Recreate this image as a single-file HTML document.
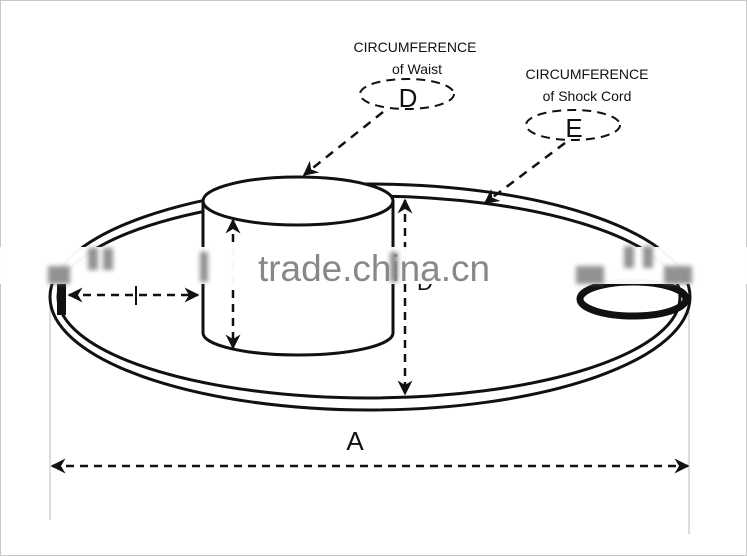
<!DOCTYPE html>
<html><head><meta charset="utf-8"><style>
html,body{margin:0;padding:0;background:#fff;}
svg{display:block;}
text{font-family:"Liberation Sans",sans-serif;}
</style></head><body>
<svg width="747" height="556" viewBox="0 0 747 556" xmlns="http://www.w3.org/2000/svg">
<defs>
<marker id="ar" viewBox="0 0 10 10" refX="9" refY="5" markerWidth="6" markerHeight="6" orient="auto-start-reverse"><path d="M0,0 L10,5 L0,10 L3,5 z" fill="#111"/></marker>
<filter id="bl"><feGaussianBlur stdDeviation="2.5"/></filter>
</defs>
<rect x="0.5" y="0.5" width="746" height="555" fill="#fff" stroke="#c8c8c8"/>
<line x1="50" y1="295" x2="50" y2="520" stroke="#bbb" stroke-width="1"/>
<line x1="689" y1="295" x2="689" y2="534" stroke="#bbb" stroke-width="1"/>
<ellipse cx="370" cy="297" rx="320" ry="113" fill="none" stroke="#111" stroke-width="3"/>
<ellipse cx="369" cy="297" rx="311" ry="101" fill="none" stroke="#111" stroke-width="3"/>
<path d="M203,201 L203,333 A95,22 0 0 0 393,333 L393,201" fill="#fff" stroke="#111" stroke-width="3"/>
<ellipse cx="298" cy="201" rx="95" ry="24" fill="#fff" stroke="#111" stroke-width="3"/>
<line x1="233" y1="220" x2="233" y2="348" stroke="#111" stroke-width="2.5" stroke-dasharray="8,6" marker-start="url(#ar)" marker-end="url(#ar)"/>
<line x1="405" y1="200" x2="405" y2="394" stroke="#111" stroke-width="2.5" stroke-dasharray="8,6" marker-start="url(#ar)" marker-end="url(#ar)"/>
<line x1="69" y1="295" x2="198" y2="295" stroke="#111" stroke-width="2.5" stroke-dasharray="8,6" marker-start="url(#ar)" marker-end="url(#ar)"/>
<line x1="136" y1="286" x2="136" y2="305" stroke="#111" stroke-width="2"/>
<line x1="52" y1="466" x2="688" y2="466" stroke="#111" stroke-width="2.5" stroke-dasharray="8,6" marker-start="url(#ar)" marker-end="url(#ar)"/>
<text x="355" y="450" font-size="26" text-anchor="middle" fill="#111">A</text>
<text x="425" y="290" font-size="22" text-anchor="middle" fill="#111">D</text>
<rect x="57" y="283" width="9" height="32" fill="#111"/>
<ellipse cx="633" cy="299" rx="53" ry="17" fill="none" stroke="#111" stroke-width="7"/>
<rect x="0" y="247" width="747" height="37" fill="#fff" opacity="0.97"/>
<g filter="url(#bl)" fill="#777" opacity="0.8">
<rect x="48" y="266" width="22" height="18"/><rect x="88" y="248" width="10" height="22"/><rect x="103" y="248" width="10" height="22"/>
<rect x="576" y="266" width="28" height="18"/><rect x="664" y="266" width="28" height="18"/><rect x="624" y="246" width="10" height="22"/><rect x="643" y="246" width="10" height="22"/>
<rect x="200" y="252" width="8" height="30"/><rect x="390" y="252" width="8" height="30"/>
</g>
<text x="258" y="281" font-size="37" fill="#888" textLength="232" lengthAdjust="spacingAndGlyphs">trade.china.cn</text>
<text x="415" y="52" font-size="14" text-anchor="middle" fill="#111">CIRCUMFERENCE</text>
<text x="417" y="74" font-size="14" text-anchor="middle" fill="#111">of Waist</text>
<ellipse cx="407" cy="94" rx="47" ry="15" fill="none" stroke="#111" stroke-width="2" stroke-dasharray="9,6"/>
<text x="408" y="107" font-size="26" text-anchor="middle" fill="#111">D</text>
<line x1="383" y1="112" x2="304" y2="175" stroke="#111" stroke-width="2.5" stroke-dasharray="9,7" marker-end="url(#ar)"/>
<text x="587" y="79" font-size="14" text-anchor="middle" fill="#111">CIRCUMFERENCE</text>
<text x="587" y="101" font-size="14" text-anchor="middle" fill="#111">of Shock Cord</text>
<ellipse cx="573" cy="125" rx="47" ry="15" fill="none" stroke="#111" stroke-width="2" stroke-dasharray="9,6"/>
<text x="574" y="137" font-size="26" text-anchor="middle" fill="#111">E</text>
<line x1="565" y1="143" x2="485" y2="203" stroke="#111" stroke-width="2.5" stroke-dasharray="9,7" marker-end="url(#ar)"/>
</svg>
</body></html>
